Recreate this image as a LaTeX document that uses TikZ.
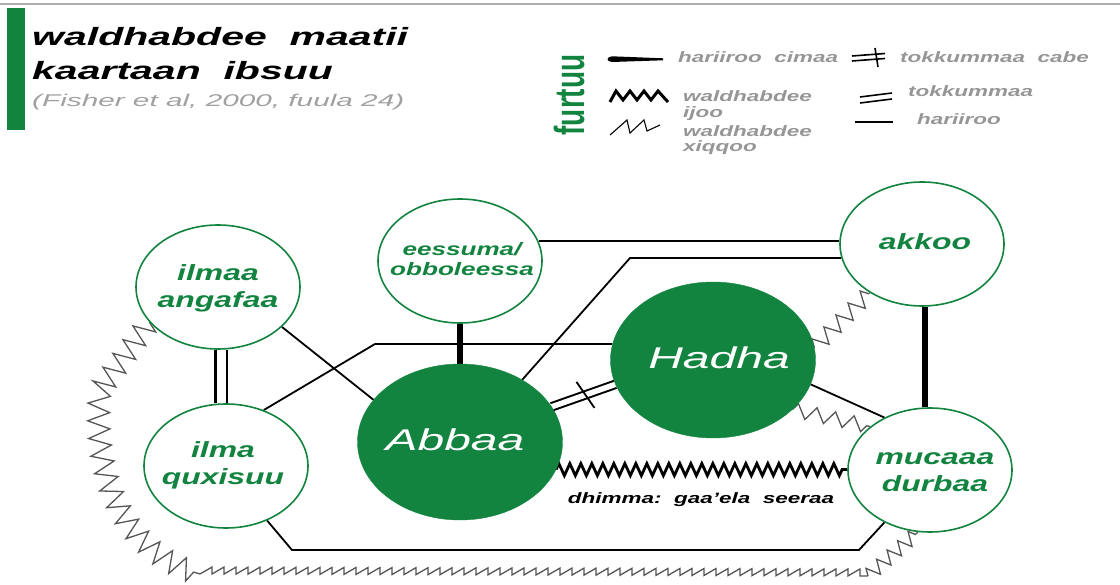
\documentclass[tikz,border=0pt]{standalone}
\usepackage{fontspec}
\usepackage{graphicx}
\setmainfont{Liberation Sans}
\newfontfamily\fTitle[FakeStretch=1.64]{Liberation Sans}
\newfontfamily\fSub[FakeStretch=1.75]{Liberation Sans}
\newfontfamily\fLeg[FakeStretch=1.5]{Liberation Sans}
\newfontfamily\fNode[FakeStretch=1.45]{Liberation Sans}
\newfontfamily\fBig[FakeStretch=1.6]{Liberation Sans}
\usetikzlibrary{shapes.geometric,decorations.pathmorphing,calc}
\pgfdeclarelayer{bg}
\pgfsetlayers{bg,main}
\definecolor{grn}{RGB}{18,132,64}
\definecolor{lgray}{RGB}{150,150,150}
\definecolor{zgray}{RGB}{85,85,85}
\definecolor{topline}{RGB}{175,175,175}
\begin{document}
\begin{tikzpicture}[x=1pt,y=-1pt,
  smallc/.style={ellipse, draw=grn, line width=1.6pt, fill=white, minimum width=164pt, minimum height=124pt, inner sep=0pt},
  bigc/.style={ellipse, fill=grn, draw=grn, minimum width=205pt, minimum height=156pt, inner sep=0pt},
  glabel/.style={inner sep=0pt, align=center, text=grn, font=\fNode\bfseries\itshape\fontsize{22}{27}\selectfont},
  wlabel/.style={inner sep=0pt, text=white, font=\fBig\itshape\fontsize{30}{34}\selectfont},
  rel/.style={draw=black, line width=1.8pt},
  strongrel/.style={draw=black, line width=6pt},
  unity/.style={draw=black, line width=2pt, double=white, double distance=5.5pt},
  majorconf/.style={draw=black, line width=2.8pt, decorate, decoration={zigzag, segment length=11pt, amplitude=6pt}},
  minorconf/.style={draw=zgray, line width=1.3pt, line join=miter, decorate, decoration={zigzag, segment length=18pt, amplitude=8pt}},
  legtext/.style={inner sep=0pt, anchor=base west, text=lgray, font=\fLeg\bfseries\itshape\fontsize{15}{16}\selectfont},
]
\useasboundingbox (0,0) rectangle (1120,585);

% header
\draw[topline, line width=2pt] (0,4) -- (1120,4);
\fill[grn] (7,8) rectangle (25,130);
\node[anchor=base west, inner sep=0pt, font=\fTitle\bfseries\itshape\fontsize{25}{30}\selectfont] (title1) at (32,46) {waldhabdee\ \ maatii};
\node[anchor=base west, inner sep=0pt, font=\fTitle\bfseries\itshape\fontsize{25}{30}\selectfont] (title2) at (32,80) {kaartaan\ \ ibsuu};
\node[anchor=base west, inner sep=0pt, text=lgray!90, font=\fSub\itshape\fontsize{17}{20}\selectfont] (subtitle) at (32,107) {(Fisher et al, 2000, fuula 24)};

% legend
\node[rotate=90, inner sep=0pt, text=grn, font=\bfseries\fontsize{28}{30}\selectfont] (furtuu) at (569,95) {\scalebox{1}[1.5]{furtuu}};
\fill (612,56.3) .. controls (606,57) and (606,61.5) .. (612,62) -- (663,60.3) -- (663,58.3) -- cycle;
\node[legtext] (lg1) at (678,63) {hariiroo\ \ cimaa};
\draw[line width=1.6pt] (852,56) -- (885,53.5);
\draw[line width=1.6pt] (852,61) -- (885,58.5);
\draw[line width=1.6pt] (875,48) -- (878,67);
\node[legtext] (lg2) at (900,63) {tokkummaa\ \ cabe};
\draw[line width=3pt, line join=miter] (610,102) -- (616,91) -- (623,100) -- (630,91) -- (637,100) -- (644,91) -- (651,100) -- (658,91) -- (668,102);
\node[legtext] (lg3a) at (683,102) {waldhabdee};
\node[legtext] (lg3b) at (683,118) {ijoo};
\draw[line width=1.6pt] (860,97) -- (892,93);
\draw[line width=1.6pt] (860,103) -- (892,99);
\node[legtext] (lg4) at (908,97) {tokkummaa};
\draw[line width=1.1pt] (610,135) -- (627,120) -- (630,133) -- (644,120) -- (647,131) -- (660,125);
\node[legtext] (lg5a) at (683,137) {waldhabdee};
\node[legtext] (lg5b) at (683,152) {xiqqoo};
\draw[line width=2pt] (855,122) -- (893,122);
\node[legtext] (lg6) at (917,125) {hariiroo};

% nodes
\node[smallc] (angafaa) at (218,287) {};
\node[smallc] (eessuma) at (460,261) {};
\node[smallc] (quxisuu) at (226,466) {};
\node[bigc] (abbaa) at (460,442) {};
\node[bigc] (hadha) at (713,360) {};
\node[smallc] (akkoo) at (922,244) {};
\node[smallc] (mucaaa) at (930,470) {};

\node[glabel] (angafaaT) at (218,288) {ilmaa\\angafaa};
\node[glabel, font=\fNode\bfseries\itshape\fontsize{18}{20}\selectfont] (eessumaT) at (462,259) {eessuma/\\obboleessa};
\node[glabel] (quxisuuT) at (223,465) {ilma\\quxisuu};
\node[wlabel] (abbaaT) at (455,440) {Abbaa};
\node[wlabel] (hadhaT) at (719,358) {Hadha};
\node[glabel] (akkooT) at (925,242) {akkoo};
\node[glabel] (mucaaaT) at (935,472) {mucaaa\\durbaa};

\coordinate (k1) at (630,258);
\coordinate (k2) at (375,344);
\coordinate (k3) at (292,550);
\coordinate (k4) at (859,550);
\coordinate (k5) at (100,390);
\coordinate (k6) at (200,574);
\coordinate (k7) at (868,576);

\begin{pgfonlayer}{bg}
\draw[rel] (eessuma.14) -- (eessuma.14 -| akkoo.west);
\draw[rel] (abbaa.45) -- (k1) -- (k1 -| akkoo.190);
\draw[rel] (quxisuu.56) -- (k2) -- (k2 -| hadha.171);
\draw[rel] (angafaa.-32) -- (abbaa.154);
\draw[unity, double distance=9pt, line width=2.4pt] ($(angafaa.south)+(3,0)$) -- ($(quxisuu.north)+(-5,0)$);
\draw[strongrel] (eessuma.south) -- (abbaa.north);
\draw[unity] (abbaa.21) -- coordinate[pos=0.53] (tk) (hadha.194);
\draw[line width=1.8pt] ($(tk)+(-9,-13)$) -- ($(tk)+(9,13)$);
\draw[majorconf] (abbaa.-16) -- (abbaa.-16 -| mucaaa.west);
\draw[rel] (hadha.-14) -- (mucaaa.131);
\draw[minorconf, decoration={segment length=19pt, amplitude=7pt}] (hadha.-32) -- (mucaaa.144);
\draw[minorconf, decoration={segment length=17pt, amplitude=8pt}] (hadha.7) -- (akkoo.223);
\draw[strongrel] ($(akkoo.south)+(3,0)$) -- ($(mucaaa.north)+(-5,0)$);
\draw[rel] (quxisuu.-53) -- (k3) -- (k4) -- (mucaaa.229);
\draw[minorconf, decoration={segment length=17pt, amplitude=11pt}] (angafaa.207) -- (k5) .. controls (92,470) and (120,552) .. (k6);
\draw[minorconf, decoration={saw, segment length=12pt, amplitude=7pt}] (k6) -- (k7);
\draw[minorconf, decoration={segment length=14pt, amplitude=7pt}] (k7) -- (mucaaa.259);
\end{pgfonlayer}

\node[inner sep=0pt, anchor=base, font=\fLeg\bfseries\itshape\fontsize{15}{16}\selectfont] (dhimma) at (701,503) {dhimma:\ \ gaa’ela\ \ seeraa};
\end{tikzpicture}
\end{document}
